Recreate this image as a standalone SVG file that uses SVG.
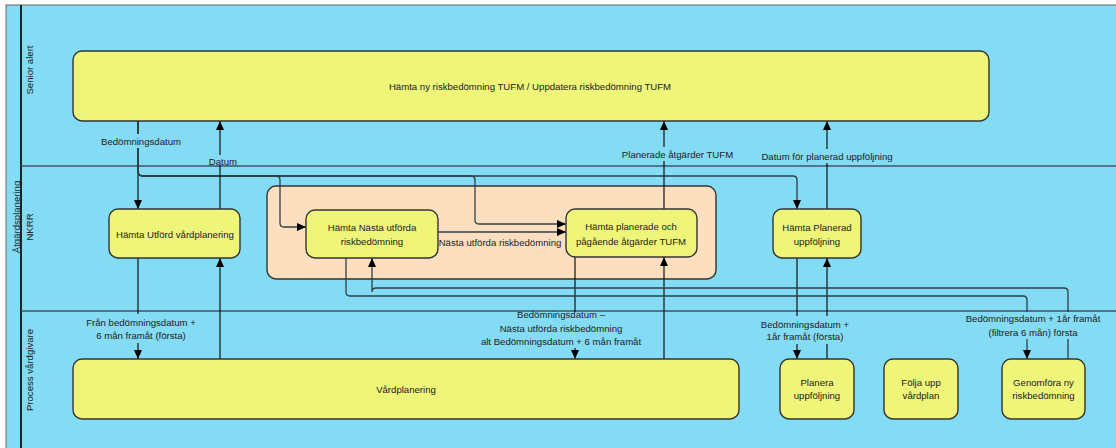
<svg xmlns="http://www.w3.org/2000/svg" width="1116" height="448" viewBox="0 0 1116 448">
<defs>
<marker id="arr" markerUnits="userSpaceOnUse" markerWidth="9" markerHeight="8" refX="9" refY="4" orient="auto">
<path d="M0,0 L9,4 L0,8 z" fill="#000"/>
</marker>
<style>
text{font-family:"Liberation Sans",Arial,sans-serif;font-size:9.6px;fill:#222;text-anchor:middle}
.node{fill:#eef578;stroke:#333;stroke-width:1.4}
.c{fill:none;stroke:#111;stroke-width:1.2}
.r{fill:none;stroke:#2e3f48;stroke-width:1.3}
.a{marker-end:url(#arr)}
.lbg{fill:#84dbf4}
.lane{stroke:#3b5566;stroke-width:1.6}
</style>
</defs>
<rect x="0" y="0" width="1116" height="448" fill="#fff"/>
<g id="pool">
<rect x="6" y="5" width="1112" height="445" fill="#84dbf4" stroke="#666" stroke-width="1"/>
<line x1="21" y1="5" x2="21" y2="448" stroke="#111" stroke-width="1.8"/>
<line class="lane" x1="21" y1="166" x2="1116" y2="166"/>
<line class="lane" x1="21" y1="311" x2="1116" y2="311"/>
<text transform="translate(17,217) rotate(-90)" dy="3.4">Åtgärdsplanering</text>
<text transform="translate(30,70) rotate(-90)" dy="3.4">Senior alert</text>
<text transform="translate(30,227) rotate(-90)" dy="3.4">NKRR</text>
<text transform="translate(30,370) rotate(-90)" dy="3.4">Process vårdgivare</text>
</g>
<g id="group-nkrr">
<rect x="267" y="186" width="449" height="93" rx="9" fill="#fddfc0" stroke="#333" stroke-width="1.4"/>
</g>
<g id="connectors">
<path class="c a" d="M138,121 V209"/>
<path class="r a" d="M138,121 V171 Q138,176 143,176 H276 Q280,176 280,180 V223 Q280,227 284,227 H306"/>
<path class="r a" d="M138,121 V171 Q138,176 143,176 H471 Q475,176 475,180 V220 Q475,224 479,224 H566"/>
<path class="r a" d="M138,121 V171 Q138,176 143,176 H793 Q797,176 797,180 V209"/>
<path class="c a" d="M220,209 V121"/>
<path class="c a" d="M138,258 V359"/>
<path class="c a" d="M220,359 V258"/>
<path class="r a" d="M438,232 H566"/>
<path class="c a" d="M664,209 V121"/>
<path class="c a" d="M664,359 V257"/>
<path class="c a" d="M575,257 V359"/>
<path class="c a" d="M827,209 V121"/>
<path class="c a" d="M827,359 V258"/>
<path class="c a" d="M797,258 V359"/>
<path class="r a" d="M346,258 V292 Q346,296 350,296 H1023 Q1027,296 1027,300 V359"/>
<path class="r a" d="M1068,359 V292 Q1068,288 1064,288 H376 Q372,288 372,292 V258"/>
<rect class="lbg" x="100" y="134" width="81" height="14"/>
<text x="141" y="144.5">Bedömningsdatum</text>
<rect class="lbg" x="206" y="155" width="34" height="10"/>
<text x="223" y="164.5">Datum</text>
<rect class="lbg" x="617" y="147" width="121" height="14"/>
<text x="677.5" y="157.8">Planerade åtgärder TUFM</text>
<rect class="lbg" x="759" y="149" width="136" height="14"/>
<text x="827" y="159.8">Datum för planerad uppföljning</text>
<rect class="lbg" x="84" y="314" width="114" height="29"/>
<text x="141" y="325.5">Från bedömningsdatum +</text>
<text x="141" y="339.2">6 mån framåt (första)</text>
<rect class="lbg" x="478" y="312" width="166" height="36"/>
<text x="561" y="318.2">Bedömningsdatum –</text>
<text x="561" y="332.2">Nästa utförda riskbedömning</text>
<text x="561" y="345.2">alt Bedömningsdatum + 6 mån framåt</text>
<rect class="lbg" x="757" y="316" width="96" height="28"/>
<text x="805" y="327.8">Bedömningsdatum +</text>
<text x="805" y="340.2">1år framåt (första)</text>
<rect class="lbg" x="964" y="312" width="138" height="27"/>
<text x="1033" y="322.2">Bedömningsdatum + 1år framåt</text>
<text x="1033" y="335.5">(filtrera 6 mån) första</text>
<text x="500" y="246.2">Nästa utförda riskbedömning</text>
</g>
<g id="n-hamta-ny">
<rect class="node" x="73" y="51" width="916" height="70" rx="9"/>
<text x="530" y="89.5">Hämta ny riskbedömning TUFM / Uppdatera riskbedömning TUFM</text>
</g>
<g id="n-hamta-utford">
<rect class="node" x="109" y="209" width="131" height="49" rx="9"/>
<text x="175" y="237.5">Hämta Utförd vårdplanering</text>
</g>
<g id="n-hamta-nasta">
<rect class="node" x="306" y="210" width="132" height="48" rx="9"/>
<text x="372" y="231.2">Hämta Nästa utförda</text>
<text x="372" y="244.5">riskbedömning</text>
</g>
<g id="n-hamta-planerade">
<rect class="node" x="566" y="209" width="131" height="48" rx="9"/>
<text x="631" y="229.5">Hämta planerade och</text>
<text x="631" y="244.5">pågående åtgärder TUFM</text>
</g>
<g id="n-hamta-planerad-uppf">
<rect class="node" x="773" y="209" width="88" height="49" rx="9"/>
<text x="817" y="230.8">Hämta Planerad</text>
<text x="817" y="244.8">uppföljning</text>
</g>
<g id="n-vardplanering">
<rect class="node" x="73" y="359" width="666" height="60" rx="9"/>
<text x="406" y="392.5">Vårdplanering</text>
</g>
<g id="n-planera">
<rect class="node" x="780" y="359" width="74" height="60" rx="9"/>
<text x="817" y="386.2">Planera</text>
<text x="817" y="399.2">uppföljning</text>
</g>
<g id="n-folja">
<rect class="node" x="884" y="359" width="74" height="60" rx="9"/>
<text x="921" y="386.2">Följa upp</text>
<text x="921" y="399.2">vårdplan</text>
</g>
<g id="n-genomfora">
<rect class="node" x="1002" y="359" width="83" height="60" rx="9"/>
<text x="1043.5" y="386.2">Genomföra ny</text>
<text x="1043.5" y="399.2">riskbedömning</text>
</g>
</svg>
